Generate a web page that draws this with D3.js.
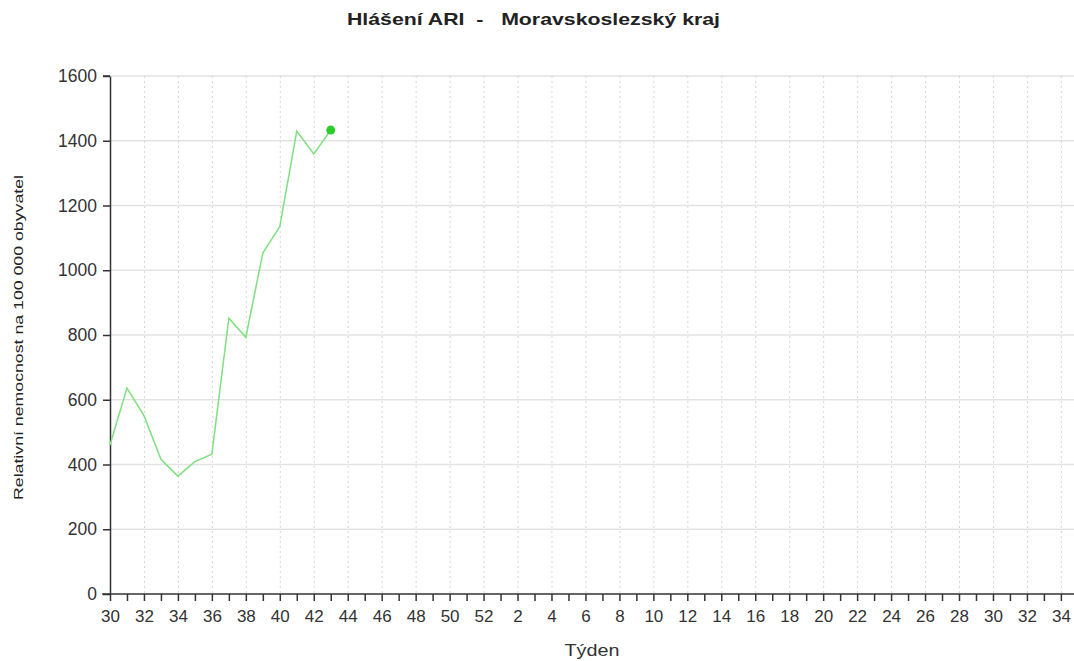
<!DOCTYPE html>
<html><head><meta charset="utf-8">
<script src="https://cdn.jsdelivr.net/npm/d3@7"></script>
<style>body{margin:0;background:#fff;} text{font-family:"Liberation Sans",Arial,sans-serif;}</style>
</head><body>
<svg id="c" width="1074" height="661"></svg>
<script>
const weeks = [30,31,32,33,34,35,36,37,38,39,40,41,42,43,44,45,46,47,48,49,50,51,52,1,2,3,4,5,6,7,8,9,10,11,12,13,14,15,16,17,18,19,20,21,22,23,24,25,26,27,28,29,30,31,32,33,34,35];
const values = [460,636,551,416,364,409,432,852,793,1053,1135,1430,1359,1433];
const yTicks = [0,200,400,600,800,1000,1200,1400,1600];
const title = "Hlášení ARI  -   Moravskoslezský kraj";
const yLabel = "Relativní nemocnost na 100 000 obyvatel";
const xLabel = "Týden";

const svg = d3.select("#c");
const L = 110, T = 76, B = 594, R = 1074;
const x = d3.scaleLinear().domain([0, weeks.length-1]).range([L, L + (weeks.length-1)*16.98]);
const y = d3.scaleLinear().domain([0,1600]).range([B, T]);

// horizontal grid
svg.append("g").selectAll("line").data(yTicks.filter(d=>d>0)).join("line")
  .attr("x1", L).attr("x2", R).attr("y1", d=>y(d)).attr("y2", d=>y(d))
  .attr("stroke", "#e3e3e3").attr("stroke-width", 1.5);
// vertical dotted grid at labeled weeks
const idx = d3.range(weeks.length);
svg.append("g").selectAll("line").data(idx.filter(i=>weeks[i]%2===0 && i>0)).join("line")
  .attr("x1", i=>x(i)+0.5).attr("x2", i=>x(i)+0.5).attr("y1", T).attr("y2", B)
  .attr("stroke", "#d6d6d6").attr("stroke-width", 1).attr("stroke-dasharray", "2,3");

// y axis
const ya = svg.append("g").attr("transform", `translate(${L},0)`)
  .call(d3.axisLeft(y).tickValues(yTicks).tickSize(7).tickSizeOuter(0).tickPadding(6).tickFormat(d3.format("d")));
ya.select(".domain").attr("stroke", "#333").attr("stroke-width", 1.5);
ya.selectAll(".tick line").attr("stroke", "#333").attr("stroke-width", 1.5);
ya.selectAll("text").attr("font-size", 17.5).attr("fill", "#333").attr("font-family", "Liberation Sans, Arial");
svg.append("line").attr("x1", L-7).attr("x2", L).attr("y1", T).attr("y2", T).attr("stroke","#333").attr("stroke-width",1.5);

// x axis
const xa = svg.append("g").attr("transform", `translate(0,${B})`)
  .call(d3.axisBottom(x).tickValues(idx).tickSize(7).tickSizeOuter(0).tickPadding(9)
    .tickFormat(i => weeks[i]%2===0 ? weeks[i] : ""));
xa.select(".domain").attr("stroke", "#333").attr("stroke-width", 1.5).attr("d", `M${L-8},0H${R}`);
xa.selectAll(".tick line").attr("stroke", "#333").attr("stroke-width", 1.5);
xa.selectAll("text").attr("font-size", 17).attr("fill", "#333").attr("font-family", "Liberation Sans, Arial");

// line
svg.append("path").datum(values)
  .attr("d", d3.line().x((d,i)=>x(i)).y(d=>y(d)))
  .attr("fill","none").attr("stroke","#7fe07f").attr("stroke-width",1.5);
svg.append("circle").attr("cx", x(values.length-1)).attr("cy", y(values[values.length-1])).attr("r", 4.5).attr("fill", "#2bcc2b");

// titles
svg.append("text").attr("x", 347).attr("y", 25).attr("font-size",17).attr("font-weight","bold").attr("fill","#222")
  .attr("xml:space","preserve").style("white-space","pre")
  .attr("textLength", 373).attr("lengthAdjust","spacingAndGlyphs").text(title);
svg.append("text").attr("transform", "translate(23,337.5) rotate(-90)").attr("text-anchor","middle").attr("font-size",12).attr("fill","#222")
  .attr("textLength", 325).attr("lengthAdjust","spacingAndGlyphs").text(yLabel);
svg.append("text").attr("x", 592).attr("y", 656).attr("text-anchor","middle").attr("font-size",17).attr("fill","#333")
  .attr("textLength", 55).attr("lengthAdjust","spacingAndGlyphs").text(xLabel);
</script>
</body></html>
